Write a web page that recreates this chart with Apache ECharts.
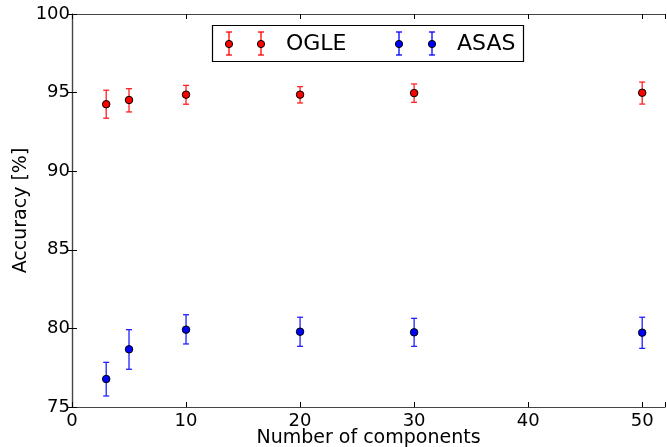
<!DOCTYPE html>
<html>
<head>
<meta charset="utf-8">
<script src="https://cdn.jsdelivr.net/npm/echarts@6/dist/echarts.min.js"></script>
<style>
  html, body { margin: 0; padding: 0; background: #fff; }
  #chart { width: 667px; height: 447px; }
</style>
</head>
<body>
<div id="chart"></div>
<script>
// number of components
const components = [3, 5, 10, 20, 30, 50];
// OGLE accuracy, with lower / upper error bounds
const ogleMean = [94.26, 94.53, 94.87, 94.87, 94.97, 94.99];
const ogleLow  = [93.37, 93.77, 94.26, 94.34, 94.38, 94.27];
const ogleHigh = [95.15, 95.25, 95.46, 95.38, 95.55, 95.67];
// ASAS accuracy, with lower / upper error bounds
const asasMean = [76.78, 78.67, 79.92, 79.79, 79.75, 79.73];
const asasLow  = [75.70, 77.40, 79.01, 78.86, 78.86, 78.73];
const asasHigh = [77.84, 79.92, 80.87, 80.71, 80.64, 80.71];
const xTicks = [0, 10, 20, 30, 40, 50];
const yTicks = [75, 80, 85, 90, 95, 100];

const font = 'DejaVu Sans';
const axisColor = '#444';

function pts(ys) {
  return components.map((x, i) => [x, ys[i]]);
}
function bars(lo, hi) {
  return components.map((x, i) => [x, lo[i], hi[i]]);
}

// error bar with caps
function errorBar(color) {
  return function (params, api) {
    const top = api.coord([api.value(0), api.value(2)]);
    const bot = api.coord([api.value(0), api.value(1)]);
    const w = 3;
    const style = { stroke: color, lineWidth: 1.3 };
    return {
      type: 'group',
      children: [
        { type: 'line', shape: { x1: top[0], y1: top[1], x2: bot[0], y2: bot[1] }, style: style },
        { type: 'line', shape: { x1: top[0] - w, y1: top[1], x2: top[0] + w, y2: top[1] }, style: style },
        { type: 'line', shape: { x1: bot[0] - w, y1: bot[1], x2: bot[0] + w, y2: bot[1] }, style: style }
      ]
    };
  };
}

const tickFmt = v => (xTicks.indexOf(v) >= 0 ? String(v) : '');
const yFmt = v => (yTicks.indexOf(v) >= 0 ? String(v) : '');

const baseAxis = {
  type: 'value',
  axisLine: { show: true, lineStyle: { color: axisColor, width: 1.2 } },
  axisTick: { show: true, inside: true, length: 5, lineStyle: { color: '#000' } },
  splitLine: { show: false }
};

// legend box is drawn by hand (two markers per entry, like matplotlib)
function legendItem(x, color) {
  return [
    { type: 'line', shape: { x1: x, y1: 32, x2: x, y2: 55 }, style: { stroke: color, lineWidth: 1.3 } },
    { type: 'line', shape: { x1: x - 3, y1: 32, x2: x + 3, y2: 32 }, style: { stroke: color, lineWidth: 1.3 } },
    { type: 'line', shape: { x1: x - 3, y1: 55, x2: x + 3, y2: 55 }, style: { stroke: color, lineWidth: 1.3 } },
    { type: 'circle', shape: { cx: x, cy: 44, r: 3.6 }, style: { fill: color, stroke: '#000', lineWidth: 1 } }
  ];
}

let chart = echarts.init(document.getElementById('chart'), null, { renderer: 'canvas' });
let option = {
  backgroundColor: '#fff',
  animation: false,
  grid: { left: 72, right: 2, top: 14, bottom: 40, outerBoundsMode: 'none' },
  xAxis: [
    Object.assign({}, baseAxis, {
      min: 0, max: 52, interval: 10, position: 'bottom',
      name: 'Number of components', nameLocation: 'middle', nameGap: 22, nameMoveOverlap: false,
      nameTextStyle: { fontFamily: font, fontSize: 19, color: '#000' },
      axisLabel: { fontFamily: font, fontSize: 18, color: '#000', margin: 5, formatter: tickFmt }
    }),
    Object.assign({}, baseAxis, {
      min: 0, max: 52, interval: 10, position: 'top',
      axisLabel: { show: false }
    })
  ],
  yAxis: [
    Object.assign({}, baseAxis, {
      min: 75, max: 100, interval: 5, position: 'left',
      name: 'Accuracy [%]', nameLocation: 'middle', nameGap: 41, nameMoveOverlap: false,
      nameTextStyle: { fontFamily: font, fontSize: 19, color: '#000' },
      axisLabel: { fontFamily: font, fontSize: 18, color: '#000', margin: 2, formatter: yFmt }
    }),
    Object.assign({}, baseAxis, {
      min: 75, max: 100, interval: 5, position: 'right',
      axisLabel: { show: false }
    })
  ],
  series: [
    {
      name: 'OGLE err', type: 'custom', renderItem: errorBar('#ff2020'),
      data: bars(ogleLow, ogleHigh), encode: { x: 0, y: [1, 2] }, z: 2
    },
    {
      name: 'ASAS err', type: 'custom', renderItem: errorBar('#2020ff'),
      data: bars(asasLow, asasHigh), encode: { x: 0, y: [1, 2] }, z: 2
    },
    {
      name: 'OGLE', type: 'scatter', data: pts(ogleMean), symbolSize: 7.5, z: 3,
      itemStyle: { color: '#ff0000', borderColor: '#000', borderWidth: 1, opacity: 1 }
    },
    {
      name: 'ASAS', type: 'scatter', data: pts(asasMean), symbolSize: 7.5, z: 3,
      itemStyle: { color: '#0000ff', borderColor: '#000', borderWidth: 1, opacity: 1 }
    }
  ],
  graphic: [
    {
      type: 'group', z: 10,
      children: [
        { type: 'rect', shape: { x: 212.5, y: 25.5, width: 311, height: 36 },
          style: { fill: '#fff', stroke: '#000', lineWidth: 1.2 } }
      ]
        .concat(legendItem(229, '#ff0000'))
        .concat(legendItem(261, '#ff0000'))
        .concat([{ type: 'text', x: 286, y: 44,
          style: { text: 'OGLE', font: '22px "DejaVu Sans"', fill: '#000', verticalAlign: 'middle' } }])
        .concat(legendItem(399, '#0000ff'))
        .concat(legendItem(432, '#0000ff'))
        .concat([{ type: 'text', x: 457, y: 44,
          style: { text: 'ASAS', font: '22px "DejaVu Sans"', fill: '#000', verticalAlign: 'middle' } }])
    }
  ]
};
chart.setOption(option);
</script>
</body>
</html>
